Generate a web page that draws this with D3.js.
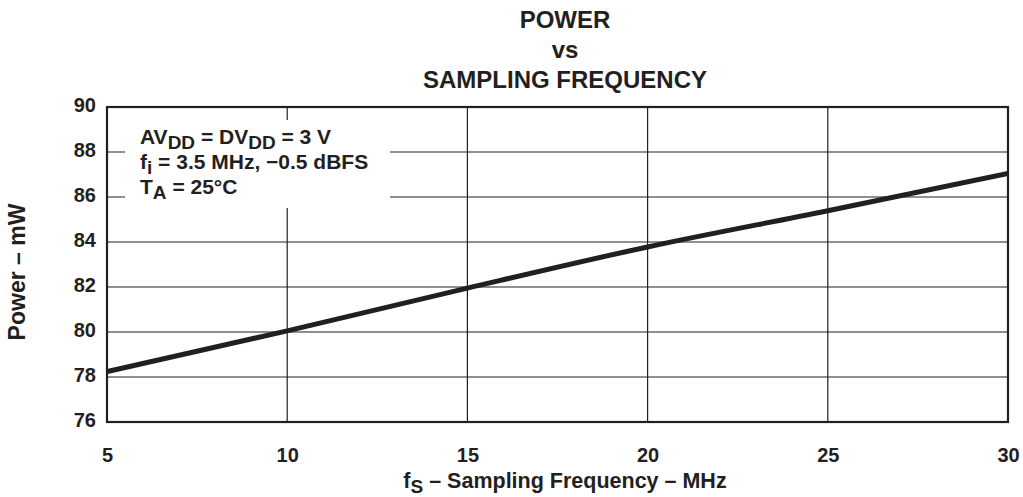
<!DOCTYPE html>
<html>
<head>
<meta charset="utf-8">
<script src="https://cdn.jsdelivr.net/npm/d3@7/dist/d3.min.js"></script>
<style>
  body { margin: 0; background: #fff; }
  text { font-family: "Liberation Sans", Arial, sans-serif; font-weight: bold; fill: #231f20; }
</style>
</head>
<body>
<div id="chart"></div>
<script>
// data
const freq = [5, 10, 15, 20, 25, 30];
const power = [78.24, 80.05, 81.95, 83.78, 85.39, 87.05];
const xTicks = [5, 10, 15, 20, 25, 30];
const yTicks = [76, 78, 80, 82, 84, 86, 88, 90];

const width = 1023;
const height = 497;
const margin = { top: 107, left: 107, bottom: 75, right: 15 };
const iwidth = width - margin.left - margin.right;
const iheight = height - margin.top - margin.bottom;

const svg = d3.select("#chart").append("svg")
  .attr("width", width)
  .attr("height", height);

const x = d3.scaleLinear().domain([5, 30]).range([0, iwidth]);
const y = d3.scaleLinear().domain([76, 90]).range([iheight, 0]);

// title
const title = ["POWER", "vs", "SAMPLING FREQUENCY"];
svg.append("g").selectAll("text").data(title).enter().append("text")
  .attr("x", 565)
  .attr("y", (d, i) => 28 + i * 30)
  .attr("text-anchor", "middle")
  .style("font-size", "24px")
  .text(d => d);

const g = svg.append("g").attr("transform", `translate(${margin.left},${margin.top})`);

// grid
g.append("g").selectAll("line").data(xTicks.slice(1, -1)).enter().append("line")
  .attr("x1", d => x(d)).attr("x2", d => x(d))
  .attr("y1", 0).attr("y2", iheight)
  .attr("stroke", "#231f20").attr("stroke-width", 1.2);

g.append("g").selectAll("line").data(yTicks.slice(1, -1)).enter().append("line")
  .attr("x1", 0).attr("x2", iwidth)
  .attr("y1", d => y(d)).attr("y2", d => y(d))
  .attr("stroke", "#231f20").attr("stroke-width", 1.2);

// legend background
g.append("rect")
  .attr("x", 18).attr("y", 13)
  .attr("width", 265).attr("height", 88)
  .attr("fill", "#fff");

// legend text
const leg = g.append("g").attr("transform", "translate(33,0)");
const l1 = leg.append("text").attr("y", 37).style("font-size", "21px");
l1.append("tspan").text("AV");
l1.append("tspan").attr("dy", 5).style("font-size", "19px").text("DD");
l1.append("tspan").attr("dy", -5).text(" = DV");
l1.append("tspan").attr("dy", 5).style("font-size", "19px").text("DD");
l1.append("tspan").attr("dy", -5).text(" = 3 V");

const l2 = leg.append("text").attr("y", 62).style("font-size", "21px");
l2.append("tspan").text("f");
l2.append("tspan").attr("dy", 5).style("font-size", "19px").text("i");
l2.append("tspan").attr("dy", -5).text(" = 3.5 MHz, \u22120.5 dBFS");

const l3 = leg.append("text").attr("y", 87).style("font-size", "21px");
l3.append("tspan").text("T");
l3.append("tspan").attr("dy", 5).style("font-size", "19px").text("A");
l3.append("tspan").attr("dy", -5).text(" = 25\u00b0C");

// data line
g.append("clipPath").attr("id", "clip")
  .append("rect").attr("width", iwidth).attr("height", iheight);

const line = d3.line()
  .x((d, i) => x(freq[i]))
  .y(d => y(d))
  .curve(d3.curveMonotoneX);

g.append("path")
  .datum(power)
  .attr("clip-path", "url(#clip)")
  .attr("fill", "none")
  .attr("stroke", "#231f20")
  .attr("stroke-width", 5)
  .attr("d", line);

// frame
g.append("rect")
  .attr("width", iwidth).attr("height", iheight)
  .attr("fill", "none")
  .attr("stroke", "#231f20").attr("stroke-width", 2.2);

// axes labels
const xAxis = g.append("g")
  .attr("transform", `translate(0,${iheight})`)
  .call(d3.axisBottom(x).tickValues(xTicks).tickSize(0).tickPadding(26).tickFormat(d3.format("d")));
xAxis.select(".domain").remove();
xAxis.selectAll("text").style("font-size", "20px").attr("fill", "#231f20");

const yAxis = g.append("g")
  .call(d3.axisLeft(y).tickValues(yTicks).tickSize(0).tickPadding(11).tickFormat(d3.format("d")));
yAxis.select(".domain").remove();
yAxis.selectAll("text").style("font-size", "20px").attr("fill", "#231f20").attr("dy", "0.22em");

// axis titles
const xt = svg.append("text")
  .attr("x", 565).attr("y", 488)
  .attr("text-anchor", "middle")
  .style("font-size", "21.5px");
xt.append("tspan").text("f");
xt.append("tspan").attr("dy", 5).style("font-size", "19px").text("S");
xt.append("tspan").attr("dy", -5).text(" \u2013 Sampling Frequency \u2013 MHz");

svg.append("text")
  .attr("transform", "translate(25,272) rotate(-90)")
  .attr("text-anchor", "middle")
  .style("font-size", "23px")
  .text("Power \u2013 mW");
</script>
</body>
</html>
